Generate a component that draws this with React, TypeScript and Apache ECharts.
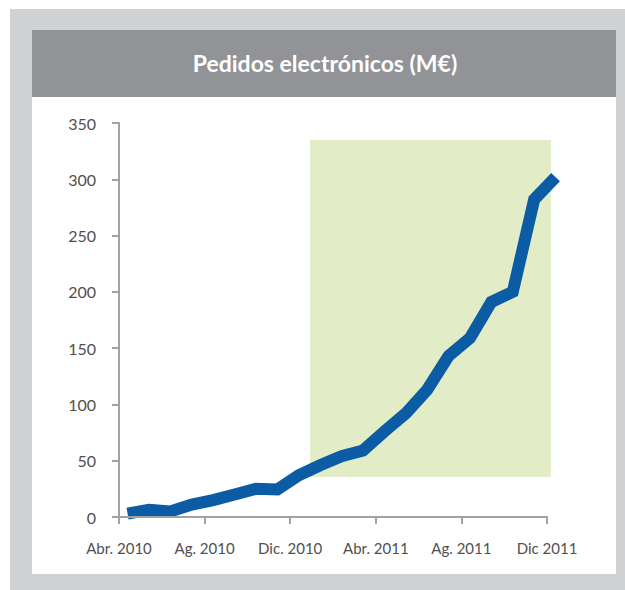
import React, { useEffect, useRef } from "react";
import * as echarts from "echarts";

const TITLE = "Pedidos electrónicos (M€)";
const MONTHS = [
  "Abr. 2010", "May. 2010", "Jun. 2010", "Jul. 2010", "Ag. 2010", "Sep. 2010", "Oct. 2010",
  "Nov. 2010", "Dic. 2010", "Ene. 2011", "Feb. 2011", "Mar. 2011", "Abr. 2011", "May. 2011",
  "Jun. 2011", "Jul. 2011", "Ag. 2011", "Sep. 2011", "Oct. 2011", "Nov. 2011", "Dic 2011",
];
const VALUES = [3, 6.5, 5, 11, 15, 20, 25, 24.5, 37, 46, 54, 59, 76, 92, 113, 143, 159, 191, 200, 282, 302];
const X_TICK_LABELS = ["Abr. 2010", "Ag. 2010", "Dic. 2010", "Abr. 2011", "Ag. 2011", "Dic 2011"];
const POINT_OFFSET = 0.4; // points sit a little after the month tick
const HIGHLIGHT_X = [8.93, 20.18];
const HIGHLIGHT_Y = [35.5, 335];

export default function App() {
  const ref = useRef<HTMLDivElement>(null);
  useEffect(() => {
    if (!ref.current) return;
    const chart = echarts.init(ref.current, null, { renderer: "svg" });
    const data = VALUES.map((v, i) => [i + POINT_OFFSET, v]);
    const axisColor = "#a2a2a4";
    const labelColor = "#505050";
    const gridLeft = 119;
    const gridRight = 78;
    const width = 625;
    const xMax = MONTHS.length - 1;
    const pxPerMonth = (width - gridLeft - gridRight) / xMax;
    const dataMax = xMax + 0.6;
    const dataRight = width - gridLeft - pxPerMonth * dataMax;
    chart.setOption({
      animation: false,
      graphic: [
        { type: "rect", z: -10, shape: { x: 10, y: 9, width: 615, height: 581 }, style: { fill: "#d1d2d4" } },
        { type: "rect", z: -9, shape: { x: 32, y: 30, width: 584, height: 544 }, style: { fill: "#ffffff" } },
        { type: "rect", z: -8, shape: { x: 32, y: 30, width: 584, height: 67 }, style: { fill: "#929396" } },
        {
          type: "text",
          z: 10,
          x: 325,
          y: 63,
          style: {
            text: TITLE,
            fill: "#ffffff",
            font: "bold 23px Lato",
            align: "center",
            verticalAlign: "middle",
          },
        },
      ],
      grid: [
        { left: gridLeft, right: gridRight, top: 123, bottom: 73, containLabel: false },
        { left: gridLeft, right: dataRight, top: 123, bottom: 73, containLabel: false },
      ],
      xAxis: [
        {
          type: "value",
          gridIndex: 0,
          min: 0,
          max: xMax,
          interval: 4,
          z: 10,
          splitLine: { show: false },
          axisLine: { show: true, lineStyle: { color: axisColor, width: 2 } },
          axisTick: { show: true, length: 7, lineStyle: { color: axisColor, width: 2 } },
          axisLabel: {
            margin: 23,
            color: labelColor,
            fontFamily: "Lato",
            fontSize: 15,
            formatter: (v: number) => X_TICK_LABELS[Math.round(v / 4)] ?? "",
          },
        },
        {
          type: "value",
          gridIndex: 1,
          min: 0,
          max: dataMax,
          show: false,
        },
      ],
      yAxis: [
        {
          type: "value",
          gridIndex: 0,
          min: 0,
          max: 350,
          interval: 50,
          z: 10,
          splitLine: { show: false },
          axisLine: { show: true, lineStyle: { color: axisColor, width: 2 } },
          axisTick: { show: true, length: 7, lineStyle: { color: axisColor, width: 2 } },
          axisLabel: { margin: 23, color: labelColor, fontFamily: "Lato", fontSize: 16 },
        },
        {
          type: "value",
          gridIndex: 1,
          min: 0,
          max: 350,
          show: false,
        },
      ],
      series: [
        {
          type: "line",
          xAxisIndex: 1,
          yAxisIndex: 1,
          data,
          clip: false,
          showSymbol: false,
          lineStyle: { color: "#0b5ca5", width: 12, join: "miter", cap: "butt" },
          z: 5,
          markArea: {
            silent: true,
            itemStyle: { color: "#e2ecc6" },
            data: [[{ coord: [HIGHLIGHT_X[0], HIGHLIGHT_Y[0]] }, { coord: [HIGHLIGHT_X[1], HIGHLIGHT_Y[1]] }]],
          },
        },
      ],
    });
    return () => chart.dispose();
  }, []);
  return (
    <div
      ref={ref}
      style={{ position: "fixed", left: 0, top: 0, width: 625, height: 590, background: "#ffffff" }}
    />
  );
}
